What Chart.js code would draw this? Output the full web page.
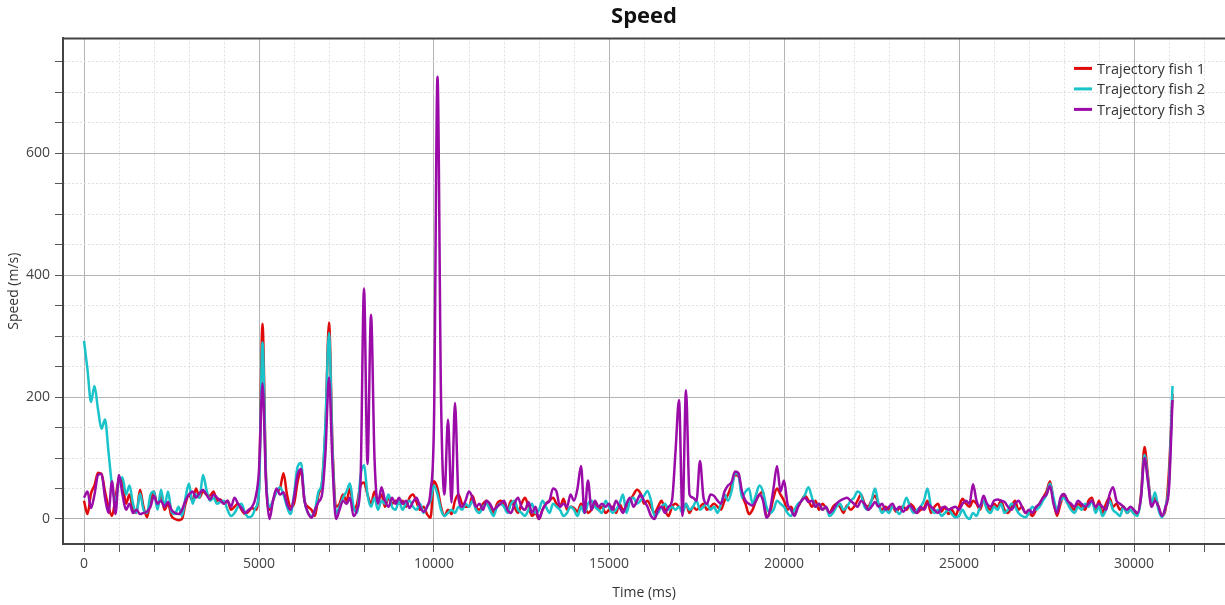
<!DOCTYPE html>
<html>
<head>
<meta charset="utf-8">
<script src="https://cdn.jsdelivr.net/npm/chart.js@4.4.1/dist/chart.umd.min.js"></script>
<style>
html,body{margin:0;padding:0;background:#ffffff;}
#wrap{width:1225px;height:605px;}
</style>
</head>
<body>
<div id="wrap"><canvas id="c" width="1225" height="605"></canvas></div>
<script>
// ---- data (time in ms, speed in m/s) ----
const timeMs = [
0,100,200,300,400,500,600,700,800,900,
1000,1100,1200,1300,1400,1500,1600,1700,1800,1900,
2000,2100,2200,2300,2400,2500,2600,2700,2800,2900,
3000,3100,3200,3300,3400,3500,3600,3700,3800,3900,
4000,4100,4200,4300,4400,4500,4600,4700,4800,4900,
5000,5100,5200,5300,5400,5500,5600,5700,5800,5900,
6000,6100,6200,6300,6400,6500,6600,6700,6800,6900,
7000,7100,7200,7300,7400,7500,7600,7700,7800,7900,
8000,8100,8200,8300,8400,8500,8600,8700,8800,8900,
9000,9100,9200,9300,9400,9500,9600,9700,9800,9900,
10000,10100,10200,10300,10400,10500,10600,10700,10800,10900,
11000,11100,11200,11300,11400,11500,11600,11700,11800,11900,
12000,12100,12200,12300,12400,12500,12600,12700,12800,12900,
13000,13100,13200,13300,13400,13500,13600,13700,13800,13900,
14000,14100,14200,14300,14400,14500,14600,14700,14800,14900,
15000,15100,15200,15300,15400,15500,15600,15700,15800,15900,
16000,16100,16200,16300,16400,16500,16600,16700,16800,16900,
17000,17100,17200,17300,17400,17500,17600,17700,17800,17900,
18000,18100,18200,18300,18400,18500,18600,18700,18800,18900,
19000,19100,19200,19300,19400,19500,19600,19700,19800,19900,
20000,20100,20200,20300,20400,20500,20600,20700,20800,20900,
21000,21100,21200,21300,21400,21500,21600,21700,21800,21900,
22000,22100,22200,22300,22400,22500,22600,22700,22800,22900,
23000,23100,23200,23300,23400,23500,23600,23700,23800,23900,
24000,24100,24200,24300,24400,24500,24600,24700,24800,24900,
25000,25100,25200,25300,25400,25500,25600,25700,25800,25900,
26000,26100,26200,26300,26400,26500,26600,26700,26800,26900,
27000,27100,27200,27300,27400,27500,27600,27700,27800,27900,
28000,28100,28200,28300,28400,28500,28600,28700,28800,28900,
29000,29100,29200,29300,29400,29500,29600,29700,29800,29900,
30000,30100,30200,30300,30400,30500,30600,30700,30800,30900,
31000,31100
];

const fish1 = [
30,8,42,55,76,74,45,20,5,35,
65,60,25,40,15,10,48,20,3,30,
45,20,40,15,25,5,0,-2,0,25,
40,30,50,35,45,40,38,45,30,32,
25,30,15,20,25,15,8,12,18,15,
50,320,70,15,30,45,50,75,40,20,
25,60,80,30,20,15,5,40,60,150,
322,120,20,25,40,30,50,15,25,55,
60,40,25,45,30,40,20,35,25,30,
25,30,20,35,40,28,15,20,8,2,
62,50,20,5,15,8,30,40,25,20,
20,38,20,15,25,30,20,10,25,30,
25,15,30,20,10,25,35,20,5,10,
0,15,25,30,35,25,20,33,15,20,
18,12,25,20,10,15,25,15,20,10,
15,20,10,25,15,20,30,40,48,42,
25,30,20,10,20,30,15,5,20,25,
20,15,25,10,20,15,20,25,15,20,
25,20,15,30,40,55,72,70,40,25,
8,15,30,40,45,3,10,35,50,40,
30,15,20,10,20,30,38,30,20,30,
15,25,18,10,20,25,20,10,22,15,
20,30,40,25,20,30,38,25,15,20,
15,20,12,18,20,15,25,20,10,15,
18,30,10,20,25,12,20,8,15,5,
20,33,25,20,30,25,15,30,20,15,
25,20,30,15,10,20,30,15,20,10,
10,5,15,25,35,45,62,30,5,25,
40,30,20,15,25,20,15,30,35,15,
30,10,25,35,20,25,15,20,10,15,
10,8,40,118,70,25,35,20,5,15,
80,205
];

const fish2 = [
292,245,192,218,180,148,163,110,55,30,
62,68,40,55,25,10,42,15,10,40,
45,15,48,20,45,12,8,20,5,35,
58,25,40,35,72,48,30,35,25,28,
30,15,5,10,20,25,10,3,5,18,
45,290,70,20,30,45,52,40,20,8,
40,85,92,30,10,5,15,45,60,160,
305,110,10,20,35,45,58,20,10,70,
88,40,20,35,15,30,25,40,20,15,
30,15,25,30,20,15,25,10,20,30,
55,40,15,5,10,15,10,20,15,25,
20,30,15,10,20,25,15,5,20,25,
20,10,25,30,15,10,5,15,25,10,
15,30,20,10,25,20,15,5,10,20,
15,5,20,10,25,30,20,15,10,30,
20,10,15,25,40,10,30,35,25,30,
38,46,30,5,10,20,25,15,20,15,
20,10,25,15,20,30,15,20,25,15,
20,10,25,40,30,45,75,72,35,45,
50,25,40,55,45,20,10,15,30,25,
20,10,5,15,25,30,40,52,35,20,
25,15,20,5,10,20,25,15,20,30,
35,45,40,20,15,30,50,25,10,15,
10,20,15,8,20,35,20,10,15,20,
30,50,20,10,15,5,10,15,8,3,
5,15,5,0,10,5,20,30,15,10,
20,15,25,10,15,25,20,10,5,3,
10,20,15,20,30,40,58,35,15,30,
35,25,15,10,20,15,25,20,30,10,
20,5,15,30,15,10,5,20,10,15,
8,5,35,105,65,25,44,15,3,20,
60,218
];

const fish3 = [
35,45,18,40,72,74,35,10,62,8,
72,40,15,25,10,15,8,10,12,20,
38,25,30,20,28,15,10,8,15,30,
40,45,35,42,48,40,32,40,35,30,
25,30,20,35,25,18,10,15,20,35,
80,222,60,0,30,50,40,44,25,15,
35,72,82,30,10,2,15,28,40,110,
232,90,0,15,30,25,35,5,15,60,
378,90,335,100,25,52,30,20,35,25,
35,25,30,18,28,35,20,12,20,45,
160,725,200,40,163,27,190,35,20,30,
45,35,20,25,15,30,25,15,20,25,
30,15,10,25,35,20,15,28,10,20,
0,15,25,30,50,45,20,25,20,40,
30,50,87,10,63,15,30,20,25,20,
25,15,30,20,10,25,35,20,30,40,
30,20,5,0,15,20,10,20,30,110,
195,5,211,40,35,30,95,35,25,40,
38,30,25,45,55,60,78,75,45,30,
25,22,30,40,30,2,15,50,87,45,
63,25,15,5,20,30,35,28,30,20,
25,15,20,10,15,25,30,33,35,30,
25,20,30,25,15,20,28,20,25,15,
20,25,15,20,12,18,22,15,10,20,
15,25,20,15,10,18,20,15,18,20,
15,25,30,25,57,30,20,38,25,20,
30,32,30,28,20,15,25,30,20,10,
15,10,20,25,35,40,54,25,10,35,
41,30,25,20,30,25,20,25,30,20,
25,20,15,40,52,30,25,20,15,20,
15,10,35,100,60,20,30,20,5,20,
50,195
];

const seriesLabels = ['Trajectory fish 1', 'Trajectory fish 2', 'Trajectory fish 3'];
const seriesColors = ['#e10a0a', '#19c3c9', '#9a0ba8'];

// tick positions (minor + major) and which are labelled
const xTickValues = [0,1000,2000,3000,4000,5000,6000,7000,8000,9000,10000,11000,12000,13000,14000,15000,16000,
  17000,18000,19000,20000,21000,22000,23000,24000,25000,26000,27000,28000,29000,30000,31000,32000];
const xLabelValues = [0,5000,10000,15000,20000,25000,30000];
const yTickValues = [0,50,100,150,200,250,300,350,400,450,500,550,600,650,700,750];
const yLabelValues = [0,200,400,600];

// ---- chart ----
const FONT = '"Open Sans", "Noto Sans", sans-serif';
const toPoints = arr => timeMs.map((t, i) => ({x: t, y: arr[i]}));
const isMajorX = v => xLabelValues.includes(v);
const isMajorY = v => yLabelValues.includes(v);

const insideLegend = {
  id: 'insideLegend',
  afterDatasetsDraw(chart) {
    const {ctx, chartArea} = chart;
    const x0 = chartArea.right - 151;
    const y0 = chartArea.top + 30;
    chart.data.datasets.forEach((ds, i) => {
      const y = y0 + i * 20.5;
      ctx.save();
      ctx.strokeStyle = ds.borderColor;
      ctx.lineWidth = 3;
      ctx.beginPath();
      ctx.moveTo(x0, y);
      ctx.lineTo(x0 + 18, y);
      ctx.stroke();
      ctx.fillStyle = '#333333';
      ctx.font = '14.5px ' + FONT;
      ctx.textBaseline = 'middle';
      ctx.textAlign = 'left';
      ctx.fillText(ds.label, x0 + 23, y + 1);
      ctx.restore();
    });
  }
};

const frameTop = {
  id: 'frameTop',
  afterDraw(chart) {
    const {ctx, chartArea} = chart;
    ctx.save();
    ctx.strokeStyle = '#444444';
    ctx.lineWidth = 2;
    ctx.beginPath();
    ctx.moveTo(chartArea.left, chartArea.top);
    ctx.lineTo(chartArea.right, chartArea.top);
    ctx.stroke();
    ctx.restore();
  }
};

new Chart(document.getElementById('c'), {
  type: 'line',
  data: {
    datasets: [fish1, fish2, fish3].map((arr, i) => ({
      label: seriesLabels[i],
      data: toPoints(arr),
      borderColor: seriesColors[i],
      backgroundColor: seriesColors[i],
      borderWidth: 2.5,
      pointRadius: 0,
      cubicInterpolationMode: 'monotone',
      borderJoinStyle: 'round',
      fill: false,
      order: 3 - i
    }))
  },
  options: {
    responsive: false,
    animation: false,
    layout: {padding: 0},
    plugins: {
      legend: {display: false},
      tooltip: {enabled: false},
      title: {
        display: true,
        fullSize: false,
        text: 'Speed',
        color: '#111111',
        font: {family: FONT, size: 22, weight: 'bold'},
        padding: {top: 4, bottom: 8}
      }
    },
    scales: {
      x: {
        type: 'linear',
        min: -600,
        max: 32600,
        afterBuildTicks: s => { s.ticks = xTickValues.map(v => ({value: v})); },
        afterFit: s => { s.height = 61; },
        ticks: {
          autoSkip: false,
          maxRotation: 0,
          padding: 4,
          color: '#444444',
          font: {family: FONT, size: 14},
          callback: v => (isMajorX(v) ? String(v) : '')
        },
        grid: {
          color: c => (c.tick && isMajorX(c.tick.value) ? '#b3b3b3' : '#e0e0e0'),
          lineWidth: 1,
          tickColor: '#555555',
          tickLength: 8
        },
        border: {
          color: '#444444',
          width: 2,
          dash: c => (c.tick && !isMajorX(c.tick.value) ? [2, 2] : [])
        },
        title: {
          display: true,
          text: 'Time (ms)',
          color: '#333333',
          font: {family: FONT, size: 14},
          padding: {top: 0, bottom: 4}
        }
      },
      y: {
        type: 'linear',
        min: -41,
        max: 788,
        afterBuildTicks: s => { s.ticks = yTickValues.map(v => ({value: v})); },
        afterFit: s => { s.width = 63; },
        ticks: {
          autoSkip: false,
          padding: 5,
          color: '#444444',
          font: {family: FONT, size: 14},
          callback: v => (isMajorY(v) ? String(v) : '')
        },
        grid: {
          color: c => (c.tick && isMajorY(c.tick.value) ? '#b3b3b3' : '#e0e0e0'),
          lineWidth: 1,
          tickColor: '#555555',
          tickLength: 8
        },
        border: {
          color: '#444444',
          width: 2,
          dash: c => (c.tick && !isMajorY(c.tick.value) ? [2, 2] : [])
        },
        title: {
          display: true,
          text: 'Speed (m/s)',
          color: '#333333',
          font: {family: FONT, size: 14},
          padding: {top: 6, bottom: 0}
        }
      }
    }
  },
  plugins: [insideLegend, frameTop]
});
</script>
</body>
</html>
